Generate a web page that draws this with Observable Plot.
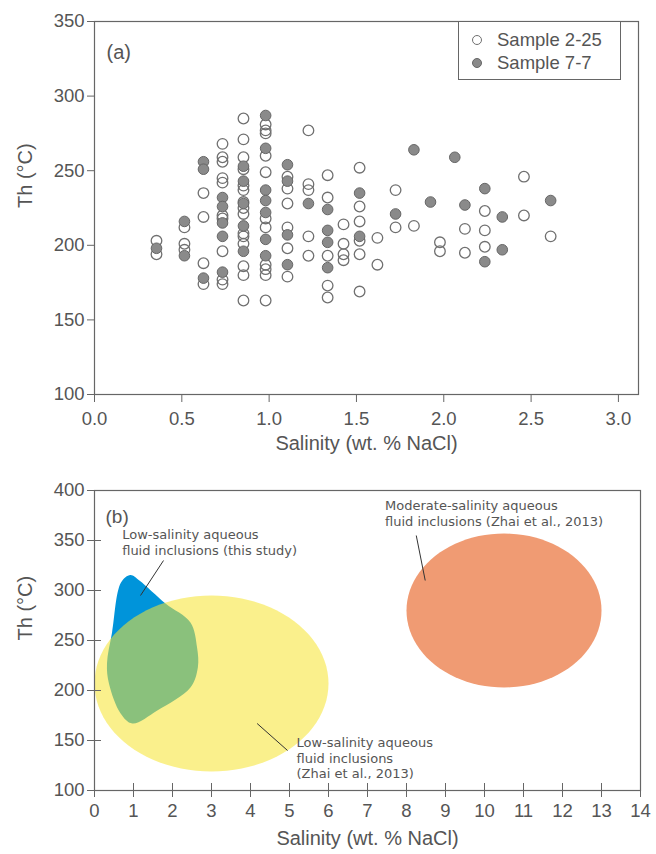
<!DOCTYPE html>
<html><head><meta charset="utf-8">
<script src="https://cdn.jsdelivr.net/npm/d3@7"></script>
<script src="https://cdn.jsdelivr.net/npm/@observablehq/plot@0.6"></script>
<style>
body{margin:0;background:#fff;}
#wrap{position:relative;width:656px;height:854px;overflow:hidden;}
#wrap svg{display:block;}
.legend{position:absolute;left:458px;top:21px;width:163px;height:59px;border:1px solid #666;background:#fff;box-sizing:border-box;
 font-family:'Liberation Sans',Arial,sans-serif;font-size:18.5px;color:#555;}
.legend .row{position:absolute;left:13px;display:flex;align-items:center;line-height:20px;}
.legend .sym{width:10px;height:10px;border-radius:50%;box-sizing:border-box;margin-right:15px;}
</style></head><body><div id="wrap"></div>
<script>
// ---------- Panel (a) data ----------
const sal225 = [0.355,0.355, 0.515,0.515,0.515, 0.624,0.624,0.624,0.624,
  0.733,0.733,0.733,0.733,0.733,0.733,0.733,0.733,0.733,0.733,
  0.853,0.853,0.853,0.853,0.853,0.853,0.853,0.853,0.853,0.853,0.853,0.853,0.853,0.853,0.853,
  0.98,0.98,0.98,0.98,0.98,0.98,0.98,0.98,0.98,0.98,0.98,
  1.105,1.105,1.105,1.105,1.105,1.105,
  1.225,1.225,1.225,1.225,1.225,
  1.335,1.335,1.335,1.335,1.335,
  1.426,1.426,1.426,1.426,
  1.518,1.518,1.518,1.518,1.518,1.518,
  1.62,1.62, 1.724,1.724, 1.829, 1.978,1.978, 2.121,2.121,
  2.235,2.235,2.235, 2.459,2.459, 2.612];
const th225 = [203,194, 212,201,197, 235,219,188,174,
  268,259,256,245,242,220,218,196,177,174,
  285,271,259,251,240,237,229,225,221,208,206,201,186,180,163,
  281,277,275,260,249,218,212,187,184,180,163,
  246,238,228,212,198,179,
  277,241,237,206,193,
  247,232,193,173,165,
  214,201,194,190,
  252,226,216,203,194,169,
  205,187, 237,212, 213, 202,196, 211,195,
  223,210,199, 246,220, 206];
const sal77 = [0.355, 0.515,0.515, 0.624,0.624,0.624,
  0.733,0.733,0.733,0.733,0.733,
  0.853,0.853,0.853,0.853,0.853,
  0.98,0.98,0.98,0.98,0.98,0.98,0.98,
  1.105,1.105,1.105,1.105,
  1.225,
  1.335,1.335,1.335,1.335,
  1.518,1.518,
  1.724, 1.829, 1.924, 2.063, 2.121, 2.235,2.235, 2.335,2.335, 2.612];
const th77 = [198, 216,193, 256,251,178,
  232,226,215,206,182,
  253,243,228,213,196,
  287,265,237,230,222,204,193,
  254,243,207,187,
  228,
  224,210,202,185,
  235,206,
  221, 264, 229, 259, 227, 238,189, 219,197, 230];
const xTicksA = [0,0.5,1.0,1.5,2.0,2.5,3.0];
const yTicksA = [100,150,200,250,300,350];
const xLabel = "Salinity (wt. % NaCl)";
const yLabel = "Th (°C)";

// ---------- Panel (b) data ----------
const xTicksB = [0,1,2,3,4,5,6,7,8,9,10,11,12,13,14];
const yTicksB = [100,150,200,250,300,350,400];
// outline of "this study" field (salinity, Th)
const studyX = [0.68,0.92,1.15,1.82,2.46,2.63,2.65,2.46,1.61,0.97,0.67,0.37,0.32,0.45];
const studyY = [308,315.5,310,287,268,243,223,203,180,167,177,207,227,258];
// Zhai et al. (2013) fields as ellipses: centre and half-axes
const lowSalField = {cx:3.0, cy:207, rx:3.0, ry:88};
const modSalField = {cx:10.5, cy:280, rx:2.5, ry:77};
const labelText = ["Low-salinity aqueous\nfluid inclusions (this study)",
  "Moderate-salinity aqueous\nfluid inclusions (Zhai et al., 2013)",
  "Low-salinity aqueous\nfluid inclusions\n(Zhai et al., 2013)"];
const labelX = [0.71, 7.45, 5.18];
const labelY = [363, 392, 155];
const leaderX1 = [1.77, 8.25, 4.17];
const leaderY1 = [330, 355, 167];
const leaderX2 = [1.18, 8.48, 4.95];
const leaderY2 = [295, 310, 140];

const FONT = "'Liberation Sans',Arial,sans-serif";
const ANN_FONT = "'DejaVu Sans',Verdana,sans-serif";
const TICK_FS = 18.5, LABEL_FS = 20;

const openPts = sal225.map((s,i)=>({s, t: th225[i]}));
const fillPts = sal77.map((s,i)=>({s, t: th77[i]}));

const chartA = Plot.plot({
  width: 656, height: 460,
  marginLeft: 94, marginRight: 18, marginTop: 21, marginBottom: 66,
  style: {fontFamily: FONT, fontSize: "18px", color: "#555", background: "white", overflow: "visible"},
  x: {domain: [0, 3.115]},
  y: {domain: [100, 350]},
  marks: [
    Plot.frame({stroke: "#666", strokeWidth: 1.2}),
    Plot.axisX({ticks: xTicksA, tickFormat: d3.format(".1f"), tickSize: 8, tickPadding: 9, stroke: "#666",
      label: null, fontSize: TICK_FS}),
    Plot.axisY({ticks: yTicksA, tickSize: 7, tickPadding: 3, stroke: "#666", label: null, fontSize: TICK_FS}),
    Plot.text([xLabel], {frameAnchor: "bottom", dy: 55, fontSize: LABEL_FS, fill: "#555"}),
    Plot.text([yLabel], {frameAnchor: "left", dx: -69, rotate: -90, fontSize: LABEL_FS, fill: "#555"}),
    Plot.dot(openPts, {x: "s", y: "t", r: 5.3, stroke: "#707070", strokeWidth: 1.3, fill: "none"}),
    Plot.dot(fillPts, {x: "s", y: "t", r: 5.3, stroke: "#666", strokeWidth: 1, fill: "#8a8a8a"}),
    Plot.text(["(a)"], {frameAnchor: "top-left", dx: 12, dy: 23, fontSize: LABEL_FS, fill: "#555"})
  ]
});

function ellipse(e){
  const pts = [];
  for (let k = 0; k < 96; k++){ const a = 2*Math.PI*k/96; pts.push({x: e.cx + e.rx*Math.cos(a), y: e.cy + e.ry*Math.sin(a)}); }
  return pts;
}
const studyPts = studyX.map((x,i)=>({x, y: studyY[i]}));
const labels = labelText.map((t,i)=>({t, x: labelX[i], y: labelY[i]}));
const leaders = leaderX1.map((x1,i)=>({x1, y1: leaderY1[i], x2: leaderX2[i], y2: leaderY2[i]}));

const chartB = Plot.plot({
  width: 656, height: 394,
  marginLeft: 94, marginRight: 16, marginTop: 30, marginBottom: 64,
  style: {fontFamily: FONT, fontSize: "18px", color: "#555", background: "white", overflow: "visible"},
  x: {domain: [0, 14]},
  y: {domain: [100, 400]},
  marks: [
    Plot.line(studyPts, {x: "x", y: "y", curve: "catmull-rom-closed", fill: "#0094da", stroke: "none"}),
    Plot.line(ellipse(lowSalField), {x: "x", y: "y", curve: "linear-closed", fill: "rgb(246,228,50)", fillOpacity: 0.56, stroke: "none"}),
    Plot.line(ellipse(modSalField), {x: "x", y: "y", curve: "linear-closed", fill: "#f09b73", stroke: "none"}),
    Plot.link(leaders, {x1: "x1", y1: "y1", x2: "x2", y2: "y2", stroke: "#333", strokeWidth: 1}),
    Plot.text(labels, {x: "x", y: "y", text: "t", textAnchor: "start", lineAnchor: "top", lineHeight: 1.22,
      fontSize: 13, fontFamily: ANN_FONT, fill: "#555"}),
    Plot.frame({stroke: "#666", strokeWidth: 1.2}),
    Plot.axisX({ticks: xTicksB, tickSize: 7, tickPadding: 6, stroke: "#666", label: null, fontSize: TICK_FS}),
    Plot.axisX({ticks: xTicksB, tickSize: -7, tickFormat: () => "", stroke: "#666", label: null}),
    Plot.axisY({ticks: yTicksB, tickSize: 7, tickPadding: 3, stroke: "#666", label: null, fontSize: TICK_FS}),
    Plot.axisY({ticks: yTicksB, tickSize: -7, tickFormat: () => "", stroke: "#666", label: null}),
    Plot.text([xLabel], {frameAnchor: "bottom", dy: 54, fontSize: LABEL_FS, fill: "#555"}),
    Plot.text([yLabel], {frameAnchor: "left", dx: -69, rotate: -90, fontSize: LABEL_FS, fill: "#555"}),
    Plot.text(["(b)"], {frameAnchor: "top-left", dx: 11, dy: 19, fontSize: 19, fill: "#555"})
  ]
});

const wrap = document.getElementById("wrap");
wrap.appendChild(chartA);
wrap.appendChild(chartB);
const leg = document.createElement("div");
leg.className = "legend";
leg.innerHTML = `<div class="row" style="top:8px"><span class="sym" style="border:1.3px solid #707070;background:#fff"></span>Sample 2-25</div>
<div class="row" style="top:31px"><span class="sym" style="border:1px solid #666;background:#8a8a8a"></span>Sample 7-7</div>`;
wrap.appendChild(leg);
</script>
</body></html>
